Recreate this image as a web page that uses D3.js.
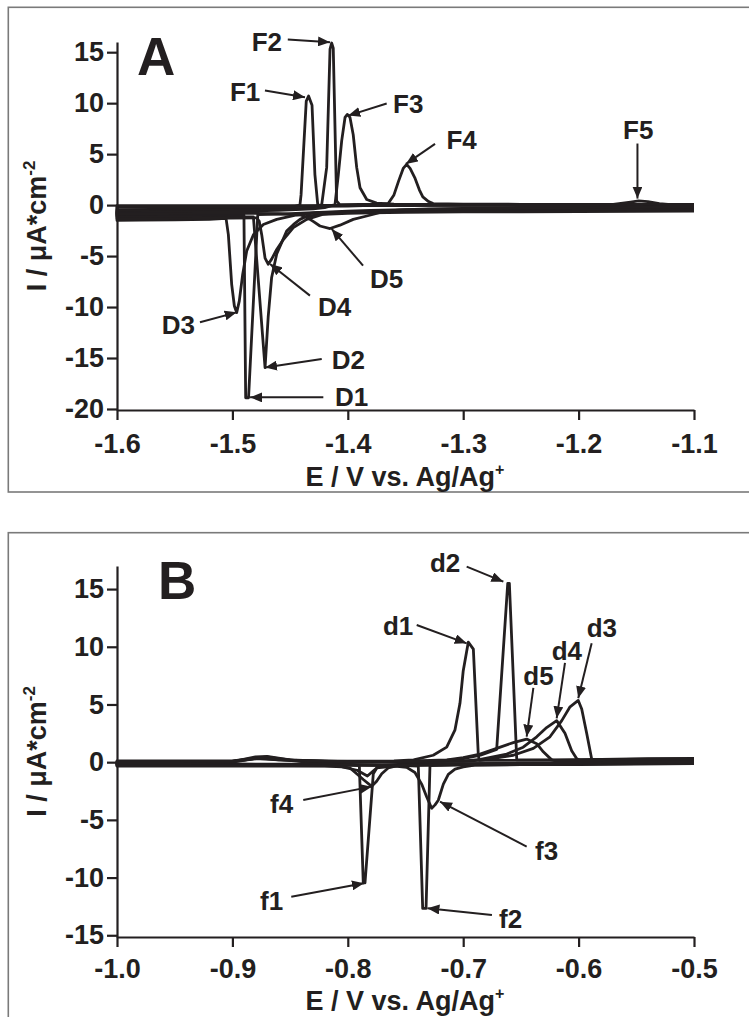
<!DOCTYPE html>
<html>
<head>
<meta charset="utf-8">
<script src="https://cdn.jsdelivr.net/npm/d3@7"></script>
<style>
body { margin: 0; background: #fff; }
svg text { font-family: "Liberation Sans", Arial, Helvetica, sans-serif; font-weight: bold; fill: #231f20; }
</style>
</head>
<body>
<svg id="chart" width="749" height="1017"></svg>
<script>
// ---- panel A : E (V) vs I (uA/cm2), one array per cycle (cathodic sweep then anodic sweep)
var xTicksA = [-1.6, -1.5, -1.4, -1.3, -1.2, -1.1];
var yTicksA = [-20, -15, -10, -5, 0, 5, 10, 15];

var cycleA1 = [[-1.10,-0.30],[-1.15,-0.31],[-1.20,-0.33],[-1.25,-0.35],[-1.30,-0.38],[-1.35,-0.45],[-1.38,-0.52],[-1.40,-0.60],[-1.42,-0.70],[-1.44,-0.80],[-1.46,-0.88],[-1.478,-0.92],[-1.486,-18.9],[-1.4885,-18.9],[-1.490,-0.95],[-1.50,-0.95],[-1.52,-0.96],[-1.55,-0.97],[-1.58,-0.99],[-1.60,-1.00],
  [-1.60,-0.45],[-1.57,-0.43],[-1.54,-0.40],[-1.50,-0.36],[-1.47,-0.32],[-1.45,-0.25],[-1.4415,0.0],[-1.4405,1.0],[-1.436,10.2],[-1.434,10.7],[-1.431,9.8],[-1.4285,3.0],[-1.426,0.0],[-1.42,-0.02],[-1.40,-0.04],[-1.35,-0.04],[-1.30,-0.02],[-1.25,0.0],[-1.20,0.0],[-1.15,0.02],[-1.10,0.02]];
var cycleA2 = [[-1.10,-0.40],[-1.15,-0.41],[-1.20,-0.42],[-1.25,-0.44],[-1.30,-0.46],[-1.35,-0.55],[-1.38,-0.62],[-1.40,-0.70],[-1.42,-0.85],[-1.4356,-1.1],[-1.4414,-1.4],[-1.447,-1.9],[-1.453,-2.55],[-1.4616,-4.8],[-1.466,-7.1],[-1.469,-11.0],[-1.4717,-15.95],[-1.4818,-1.15],[-1.50,-1.15],[-1.53,-1.15],[-1.56,-1.15],[-1.60,-1.15],
  [-1.60,-0.60],[-1.55,-0.55],[-1.50,-0.50],[-1.46,-0.42],[-1.44,-0.32],[-1.43,-0.20],[-1.4226,0.05],[-1.4183,3.7],[-1.4154,15.3],[-1.414,15.9],[-1.4126,15.4],[-1.4097,0.4],[-1.407,0.05],[-1.39,0.06],[-1.35,0.07],[-1.30,0.08],[-1.25,0.08],[-1.20,0.08],[-1.15,0.08],[-1.10,0.08]];
var cycleA3 = [[-1.10,-0.50],[-1.15,-0.51],[-1.20,-0.52],[-1.25,-0.54],[-1.30,-0.56],[-1.35,-0.62],[-1.38,-0.66],[-1.40,-0.70],[-1.427,-0.75],[-1.4443,-0.97],[-1.4616,-1.4],[-1.4732,-1.9],[-1.4818,-2.9],[-1.4876,-4.5],[-1.4911,-6.8],[-1.494,-9.4],[-1.4963,-10.55],[-1.4983,-9.9],[-1.5006,-7.8],[-1.5035,-2.9],[-1.5055,-1.3],[-1.52,-1.40],[-1.55,-1.45],[-1.58,-1.48],[-1.60,-1.50],
  [-1.60,-0.75],[-1.55,-0.70],[-1.50,-0.62],[-1.46,-0.52],[-1.43,-0.38],[-1.42,-0.25],[-1.4111,0.05],[-1.4082,3.0],[-1.4053,6.3],[-1.4024,8.6],[-1.4004,8.9],[-1.3981,8.6],[-1.3953,6.9],[-1.3923,3.7],[-1.3894,1.7],[-1.3836,0.55],[-1.375,0.2],[-1.36,0.1],[-1.30,0.0],[-1.25,-0.02],[-1.20,-0.04],[-1.15,-0.05],[-1.10,-0.05]];
var cycleA4 = [[-1.10,-0.60],[-1.15,-0.62],[-1.20,-0.63],[-1.25,-0.65],[-1.30,-0.66],[-1.35,-0.70],[-1.38,-0.75],[-1.40,-0.80],[-1.4212,-0.9],[-1.4356,-1.4],[-1.4472,-2.2],[-1.456,-3.4],[-1.4616,-4.35],[-1.466,-5.3],[-1.469,-5.8],[-1.4717,-5.2],[-1.4746,-2.9],[-1.4767,-1.6],[-1.479,-1.25],[-1.50,-1.28],[-1.53,-1.30],[-1.56,-1.32],[-1.60,-1.35],
  [-1.60,-0.20],[-1.55,-0.20],[-1.50,-0.18],[-1.45,-0.15],[-1.40,-0.10],[-1.38,-0.02],[-1.365,0.15],[-1.36,1.0],[-1.356,2.35],[-1.352,3.6],[-1.349,4.0],[-1.346,3.6],[-1.342,2.7],[-1.338,1.5],[-1.335,0.8],[-1.33,0.35],[-1.326,0.15],[-1.30,0.10],[-1.25,0.08],[-1.20,0.07],[-1.15,0.07],[-1.10,0.07]];
var cycleA5 = [[-1.10,-0.20],[-1.15,-0.22],[-1.20,-0.25],[-1.25,-0.28],[-1.30,-0.32],[-1.33,-0.38],[-1.3548,-0.48],[-1.3692,-0.65],[-1.3836,-1.07],[-1.3953,-1.4],[-1.4068,-1.97],[-1.4154,-2.3],[-1.4241,-2.05],[-1.43,-1.6],[-1.4356,-1.2],[-1.4414,-0.95],[-1.46,-0.85],[-1.48,-0.82],[-1.50,-0.82],[-1.53,-0.82],[-1.56,-0.83],[-1.60,-0.85],
  [-1.60,-0.05],[-1.55,-0.06],[-1.50,-0.06],[-1.45,-0.05],[-1.40,-0.03],[-1.35,0.0],[-1.30,0.0],[-1.25,0.0],[-1.20,0.02],[-1.17,0.08],[-1.155,0.3],[-1.148,0.42],[-1.14,0.35],[-1.13,0.15],[-1.12,0.05],[-1.10,0.0]];

// label, tip E, tip I, tail E, tail I, text E, text I
var notesA = [
  ['F1', -1.4371, 10.58, -1.4718, 11.24, -1.5021, 10.26],
  ['F2', -1.4154, 15.98, -1.4520, 16.24, -1.4833, 15.16],
  ['F3', -1.3996, 8.78, -1.3663, 9.96, -1.3608, 9.08],
  ['F4', -1.3496, 4.04, -1.3244, 6.00, -1.3145, 5.52],
  ['F5', -1.1490, 0.64, -1.1490, 6.04, -1.1615, 6.53],
  ['D1', -1.4847, -18.86, -1.4212, -18.86, -1.4111, -19.69],
  ['D2', -1.4717, -15.92, -1.4226, -15.09, -1.4139, -16.05],
  ['D3', -1.4963, -10.52, -1.5281, -11.50, -1.5613, -12.61],
  ['D4', -1.4674, -5.77, -1.4328, -8.88, -1.4258, -10.84],
  ['D5', -1.4140, -2.34, -1.3868, -5.94, -1.3808, -8.10]
];

// ---- panel B
var xTicksB = [-1.0, -0.9, -0.8, -0.7, -0.6, -0.5];
var yTicksB = [-15, -10, -5, 0, 5, 10, 15];

var cycleB1 = [[-0.50,-0.02],[-0.55,-0.05],[-0.60,-0.08],[-0.65,-0.10],[-0.70,-0.12],[-0.75,-0.15],[-0.7736,-0.3],[-0.7779,-1.0],[-0.7851,-10.46],[-0.7866,-10.46],[-0.790,-0.3],[-0.80,-0.20],[-0.85,-0.18],[-0.90,-0.16],[-0.95,-0.15],[-1.00,-0.15],
  [-1.00,0.10],[-0.95,0.10],[-0.90,0.12],[-0.88,0.35],[-0.87,0.45],[-0.86,0.3],[-0.84,0.10],[-0.80,0.08],[-0.76,0.10],[-0.743,0.2],[-0.726,0.6],[-0.7143,1.3],[-0.7071,2.8],[-0.7028,5.1],[-0.70,7.9],[-0.6956,10.4],[-0.6912,9.8],[-0.6869,0.6],[-0.686,0.15],[-0.65,0.15],[-0.60,0.18],[-0.55,0.22],[-0.50,0.25]];
var cycleB2 = [[-0.50,-0.06],[-0.55,-0.09],[-0.60,-0.12],[-0.65,-0.15],[-0.70,-0.18],[-0.7288,-0.3],[-0.7322,-12.67],[-0.7351,-12.67],[-0.7389,-0.35],[-0.76,-0.25],[-0.80,-0.22],[-0.85,-0.22],[-0.90,-0.20],[-0.95,-0.20],[-1.00,-0.20],
  [-1.00,0.0],[-0.95,0.0],[-0.90,0.05],[-0.875,0.4],[-0.86,0.25],[-0.84,0.05],[-0.80,0.02],[-0.75,0.05],[-0.72,0.12],[-0.70,0.3],[-0.685,0.6],[-0.671,1.1],[-0.6614,15.5],[-0.66,15.5],[-0.6536,0.2],[-0.62,0.2],[-0.58,0.25],[-0.54,0.30],[-0.50,0.32]];
var cycleB3 = [[-0.50,-0.10],[-0.55,-0.13],[-0.60,-0.16],[-0.65,-0.20],[-0.69,-0.25],[-0.6999,-0.4],[-0.7071,-0.6],[-0.7129,-1.05],[-0.7172,-1.9],[-0.7216,-3.3],[-0.7244,-3.7],[-0.7273,-4.0],[-0.7317,-3.0],[-0.736,-1.9],[-0.7418,-0.9],[-0.749,-0.45],[-0.7634,-0.3],[-0.80,-0.28],[-0.85,-0.27],[-0.90,-0.26],[-0.95,-0.25],[-1.00,-0.25],
  [-1.00,-0.05],[-0.95,-0.03],[-0.90,0.05],[-0.88,0.45],[-0.87,0.5],[-0.85,0.2],[-0.80,0.0],[-0.75,0.0],[-0.70,0.10],[-0.6854,0.15],[-0.6566,0.6],[-0.6392,1.2],[-0.6248,2.2],[-0.6146,3.6],[-0.6074,4.8],[-0.6003,5.35],[-0.5973,4.6],[-0.593,2.5],[-0.5887,0.3],[-0.585,0.15],[-0.55,0.18],[-0.50,0.20]];
var cycleB4 = [[-0.50,-0.13],[-0.55,-0.17],[-0.60,-0.20],[-0.65,-0.22],[-0.70,-0.25],[-0.757,-0.3],[-0.765,-0.5],[-0.7706,-1.0],[-0.775,-1.65],[-0.7793,-2.1],[-0.7866,-1.5],[-0.7923,-1.0],[-0.7981,-0.5],[-0.81,-0.32],[-0.85,-0.30],[-0.90,-0.30],[-0.95,-0.30],[-1.00,-0.30],
  [-1.00,-0.10],[-0.95,-0.08],[-0.90,0.0],[-0.88,0.3],[-0.86,0.2],[-0.80,0.0],[-0.75,0.02],[-0.70,0.10],[-0.685,0.25],[-0.6623,0.7],[-0.648,1.3],[-0.6363,2.2],[-0.6277,3.0],[-0.619,3.6],[-0.6118,2.5],[-0.606,1.0],[-0.6016,0.3],[-0.598,0.12],[-0.55,0.12],[-0.50,0.15]];
var cycleB5 = [[-0.50,0.05],[-0.55,0.0],[-0.60,-0.05],[-0.65,-0.10],[-0.70,-0.15],[-0.75,-0.25],[-0.775,-0.5],[-0.783,-1.2],[-0.792,-0.7],[-0.805,-0.4],[-0.82,-0.35],[-0.85,-0.35],[-0.90,-0.35],[-0.95,-0.35],[-1.00,-0.35],
  [-1.00,0.05],[-0.95,0.05],[-0.90,0.08],[-0.875,0.35],[-0.86,0.2],[-0.80,0.05],[-0.75,0.08],[-0.714,0.2],[-0.70,0.4],[-0.6854,0.7],[-0.671,1.2],[-0.6566,1.7],[-0.645,2.0],[-0.6363,1.6],[-0.6306,0.9],[-0.6233,0.2],[-0.62,0.10],[-0.58,0.22],[-0.54,0.26],[-0.50,0.28]];

var notesB = [
  ['d1', -0.6970, 10.30, -0.7403, 11.89, -0.7695, 11.02],
  ['d2', -0.6652, 15.64, -0.6970, 16.94, -0.7288, 16.48],
  ['d3', -0.6003, 5.54, -0.5887, 10.30, -0.5930, 10.88],
  ['d4', -0.6190, 3.80, -0.6118, 8.60, -0.6233, 8.86],
  ['d5', -0.6450, 2.21, -0.6392, 6.43, -0.6479, 6.69],
  ['f1', -0.7860, -10.49, -0.8490, -11.66, -0.8761, -12.80],
  ['f2', -0.7310, -12.66, -0.6751, -13.24, -0.6690, -14.37],
  ['f3', -0.7201, -3.42, -0.6450, -7.32, -0.6378, -8.47],
  ['f4', -0.7793, -2.12, -0.8386, -3.28, -0.8674, -4.40]
];

var ink = '#231f20';
var svg = d3.select('#chart');

svg.append('defs').append('marker')
  .attr('id', 'head')
  .attr('viewBox', '0 0 12 10')
  .attr('refX', 12).attr('refY', 5)
  .attr('markerWidth', 12).attr('markerHeight', 10)
  .attr('markerUnits', 'userSpaceOnUse')
  .attr('orient', 'auto')
  .append('path').attr('d', 'M0,0L12,5L0,10Z').attr('fill', ink);

function drawPanel(p){
  var x = d3.scaleLinear().domain(p.xDomain).range([117, 694]);
  var y = d3.scaleLinear().domain(p.yDomain).range([p.bottom, p.top]);

  // grey frame, runs off the right edge like the source
  svg.append('rect')
    .attr('x', 8.3).attr('y', p.frameTop)
    .attr('width', 800).attr('height', p.frameHeight)
    .attr('fill', 'none').attr('stroke', '#7a7a7a').attr('stroke-width', 1.6);

  var line = d3.line().x(function(d){ return x(d[0]); }).y(function(d){ return y(d[1]); });

  svg.append('g').selectAll('path')
    .data(p.cycles)
    .enter().append('path')
    .attr('d', line)
    .attr('fill', 'none').attr('stroke', ink)
    .attr('stroke-width', 2.8).attr('stroke-linejoin', 'round');

  var xAxis = svg.append('g')
    .attr('transform', 'translate(0,' + p.bottom + ')')
    .call(d3.axisBottom(x).tickValues(p.xTicks)
      .tickFormat(function(d){ return d.toFixed(1); })
      .tickSize(10).tickSizeOuter(0).tickPadding(p.xPad));
  var yAxis = svg.append('g')
    .attr('transform', 'translate(117,0)')
    .call(d3.axisLeft(y).tickValues(p.yTicks)
      .tickFormat(function(d){ return String(d); })
      .tickSize(10).tickSizeOuter(0).tickPadding(3));
  [xAxis, yAxis].forEach(function(a){
    a.select('.domain').attr('stroke', ink).attr('stroke-width', 2.2);
    a.selectAll('.tick line').attr('stroke', ink).attr('stroke-width', 2.2);
    a.selectAll('.tick text').attr('fill', ink).style('font-size', '27px');
  });

  // axis titles
  var xt = svg.append('text')
    .attr('x', 405).attr('y', p.titleY)
    .attr('text-anchor', 'middle').style('font-size', '27px')
    .text('E / V vs. Ag/Ag');
  xt.append('tspan').attr('dy', -11).style('font-size', '16px').text('+');

  var yt = svg.append('text')
    .attr('transform', 'translate(46,' + ((p.top + p.bottom) / 2) + ') rotate(-90)')
    .attr('text-anchor', 'middle').style('font-size', '27px')
    .text('I / \u03bcA*cm');
  yt.append('tspan').attr('dy', -11).style('font-size', '17px').text('-2');

  // panel letter
  svg.append('text')
    .attr('x', p.letterX).attr('y', p.top + 33)
    .style('font-size', '53px')
    .text(p.letter);

  // peak annotations
  var notes = svg.append('g').selectAll('g')
    .data(p.notes)
    .enter().append('g');
  notes.append('line')
    .attr('x1', function(d){ return x(d[3]); })
    .attr('y1', function(d){ return y(d[4]); })
    .attr('x2', function(d){ return x(d[1]); })
    .attr('y2', function(d){ return y(d[2]); })
    .attr('stroke', ink).attr('stroke-width', 2)
    .attr('marker-end', 'url(#head)');
  notes.append('text')
    .attr('x', function(d){ return x(d[5]); })
    .attr('y', function(d){ return y(d[6]); })
    .style('font-size', '26px')
    .text(function(d){ return d[0]; });
}

drawPanel({
  xDomain: [-1.6, -1.1], yDomain: [-20.1, 16],
  top: 42, bottom: 410, frameTop: 7.3, frameHeight: 484.7, titleY: 486, xPad: 14,
  xTicks: xTicksA, yTicks: yTicksA,
  cycles: [cycleA1, cycleA2, cycleA3, cycleA4, cycleA5],
  notes: notesA, letter: 'A', letterX: 137
});

drawPanel({
  xDomain: [-1.0, -0.5], yDomain: [-15.15, 17],
  top: 566, bottom: 937, frameTop: 532.7, frameHeight: 520, titleY: 1010, xPad: 12,
  xTicks: xTicksB, yTicks: yTicksB,
  cycles: [cycleB1, cycleB2, cycleB3, cycleB4, cycleB5],
  notes: notesB, letter: 'B', letterX: 158
});
</script>
</body>
</html>
